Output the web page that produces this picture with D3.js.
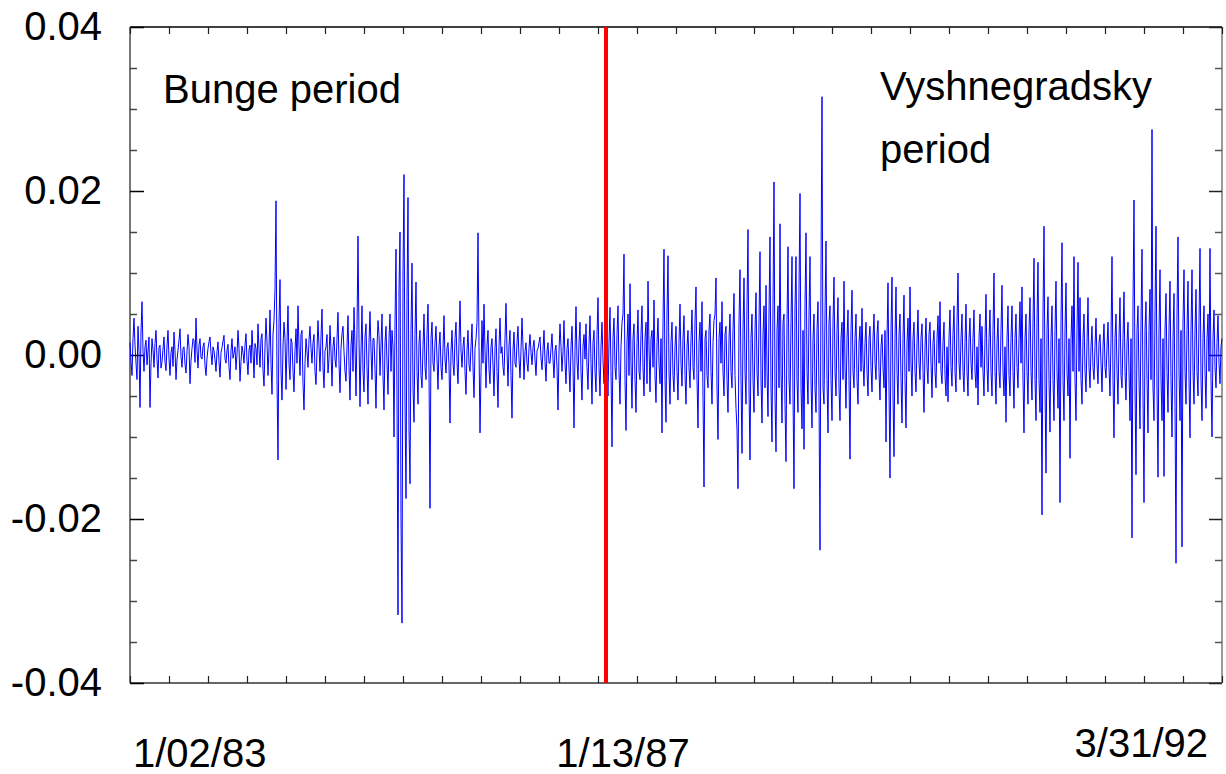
<!DOCTYPE html>
<meta charset="utf-8">

<style>
  body { margin: 0; background: #fff; }
  svg text { font-family: "Liberation Sans", Arial, sans-serif; fill: #000; }
</style>

<script src="https://d3js.org/d3.v7.min.js"></script>

<div id="chart"></div>

<script>

// daily returns, in thousandths (0.001 units)
var returns = [
  1.5, -0.8, -2.5, 2.0, 4.5, 1.2, -1.0, -3.0, 3.5, 0.4, -6.4, 2.8, 6.5, 0.5, -2.0, 1.0, 1.8, -1.2, 0.5, 2.2,
  -6.4, -1.0, 2.0, 0.6, -1.5, 1.4, 3.0, -0.5, -2.8, 0.9, 1.2, -1.6, -0.8, 0.7, 2.2, -0.9, -1.9, 1.1, 3.0, -0.4,
  -2.5, 0.3, 1.0, -1.4, 2.8, 0.5, -3.0, -0.6, 0.6, 1.8, 3.2, -0.2, -1.5, 0.8, 1.0, -1.1, -2.2, 0.4, 2.5, 1.0,
  -3.5, -0.7, 0.8, 2.0, 1.8, -0.9, 4.5, 0.6, -1.6, 1.2, 2.0, -0.3, -0.5, 1.0, 1.5, -1.3, -2.5, -0.4, 0.8, 1.6,
  2.2, 0.2, -1.2, 1.0, 0.5, -0.6, -2.0, 0.4, 1.6, -0.8, -2.7, 0.3, 0.9, 1.7, 2.4, -0.5, -1.0, 0.6, 1.3, -1.5,
  -3.0, 0.5, 2.0, -0.4, 0.2, 1.0, -1.8, 0.1, 3.0, 0.8, -3.2, -0.8, 1.1, 0.3, -1.0, 1.2, 2.6, -0.7, -2.4, 0.6,
  1.2, -1.0, 3.0, 0.5, -2.8, 1.4, 0.8, -1.2, 3.8, 0.7, -1.5, 2.0, 2.6, -1.8, -3.8, 1.0, 4.5, 1.5, -2.5, 0.8,
  5.5, -1.0, -4.8, 2.5, 4.2, 8.0, 18.8, -3.0, -12.8, 4.0, 9.2, -2.0, -5.5, 1.0, 4.0, 2.0, -4.2, 1.5, 6.0, -1.0,
  -3.0, 2.0, 1.5, -2.0, -4.5, 0.5, 3.2, -1.0, 6.0, 1.0, -2.5, 2.5, 3.0, -3.5, -6.7, -1.0, 2.0, 0.5, -1.5, 1.8,
  3.5, 0.8, -1.0, 1.5, 2.5, -2.0, -3.6, 0.6, 4.2, 1.0, -2.0, 2.2, 5.6, -1.5, -4.0, 0.5, 1.0, 2.5, -2.2, -0.5,
  3.6, 0.5, -3.8, 1.0, 2.2, -0.5, -1.5, 2.0, 5.2, -1.0, -4.6, 0.8, 2.6, 3.5, 0.4, -2.0, -3.2, 1.0, 4.8, -1.5,
  -5.5, 1.2, 3.0, -2.0, 5.8, 1.0, -5.0, 3.0, 14.5, 2.0, -6.3, 0.5, 6.0, -2.0, -4.5, 2.2, 3.8, -1.5, -6.0, 1.5,
  5.3, 0.5, -3.0, 2.0, 2.0, -1.8, -6.5, 1.0, 4.2, 2.5, -2.5, 1.2, 5.0, -2.5, -6.7, 1.5, 3.5, -1.0, -4.8, 2.0,
  5.0, -2.0, 3.0, 1.0, -10.0, 4.0, 12.9, -5.0, -31.7, 8.0, 15.0, -20.0, -32.7, 10.0, 22.0, -6.0, -17.5, 7.0, 19.2, -9.0,
  -15.7, 3.0, 11.2, -4.0, -8.2, 2.5, 8.9, -2.0, -6.0, 1.5, 3.0, -2.5, -4.0, 1.0, 5.0, -1.5, -3.0, 2.5, 6.2, -2.0,
  -18.7, 2.0, 4.0, -1.0, -2.0, 1.5, 3.5, -0.5, -4.2, 1.0, 2.8, -1.5, -3.0, 0.8, 4.8, -0.6, -2.2, 0.9, 1.5, -1.2,
  -8.3, 0.5, 3.0, -1.0, -2.5, 2.0, 4.0, -0.8, -3.5, 1.5, 6.6, 0.5, -1.5, 1.0, 2.2, -2.0, -4.8, 0.6, 3.0, -1.2,
  -2.0, 1.0, 3.8, -1.5, -5.2, 0.8, 2.0, 4.0, 14.9, 1.0, -9.5, -2.0, 4.2, -1.0, 6.2, 0.5, -4.0, 1.2, 3.0, -1.8,
  -3.5, 1.0, 2.0, -1.2, -5.0, 0.8, 3.2, -2.0, -6.4, 1.0, 4.5, 0.2, 1.0, -1.5, -2.5, 2.0, 6.3, 0.5, -3.8, 1.2,
  3.0, -2.5, -7.7, 0.6, 2.8, -1.0, -1.5, 1.5, 3.5, -0.5, -2.8, 0.6, 4.5, 1.0, -3.0, 0.4, 1.5, -1.0, -2.0, 0.8,
  2.5, 0.3, -1.2, 0.9, 1.8, -0.6, -2.5, 0.5, 0.8, 1.5, 2.2, -0.4, -1.8, 0.6, 3.0, -0.8, -3.2, 0.5, 1.5, -1.0,
  -1.0, 0.8, 2.6, -0.5, -2.8, 0.6, 1.2, -1.5, -6.7, 0.5, 3.8, 1.0, -2.0, 0.4, 4.2, -1.0, -3.5, 0.8, 2.0, -1.6,
  -4.5, 1.0, 3.5, -1.2, -8.9, 0.5, 5.9, -0.8, -3.0, 1.5, 4.0, -2.0, -5.5, 1.0, 2.5, -0.5, 3.8, -1.5, -4.2, 1.2,
  4.8, -1.0, -6.0, 1.5, 3.0, -2.0, -4.5, 2.5, 7.0, -1.5, -5.0, 1.0, 4.0, -0.6, -3.5, 2.0, 6.0, -2.5, -5.0, 1.5,
  5.8, -2.0, -11.2, 2.0, 4.5, -1.5, -3.0, 2.5, 6.0, -2.0, -6.0, 1.0, 4.0, 5.0, 12.3, -3.0, -9.2, 1.5, 5.0, -2.5,
  8.7, -1.0, -6.5, 2.0, 3.8, -3.0, -7.0, 1.5, 5.5, -2.0, -3.0, 2.5, 6.0, -1.5, -5.0, 2.0, 4.0, -3.5, 9.0, 1.0,
  -4.5, 2.0, 3.0, -1.5, 6.7, -2.5, -5.8, 1.5, 4.5, -1.0, -3.5, 2.0, -9.5, 4.0, 12.9, -3.0, -8.2, 5.0, 12.1, -2.0,
  -6.0, 1.5, 4.0, -2.5, -4.5, 1.0, 3.5, -2.0, -5.5, 1.5, 6.2, -1.0, -3.8, 2.0, 4.8, -2.5, -6.0, 1.0, 3.0, -1.5,
  -4.0, 2.0, 5.5, -1.5, -3.0, 4.0, 8.3, -3.0, -8.9, 1.5, 4.0, -2.0, 6.5, -5.0, -16.1, 2.0, 3.0, -2.5, -4.0, 3.0,
  5.0, -2.0, -6.0, 1.5, 4.2, 5.0, 9.4, -4.0, -10.3, 2.0, 4.0, -1.0, 6.5, -2.0, -5.0, 2.5, 3.5, -3.0, -7.0, 2.0,
  5.0, -2.0, -4.0, 3.0, 7.5, -2.5, -6.5, -9.0, -16.3, 4.0, 10.4, -3.0, -12.0, 3.0, 9.4, -2.0, -6.0, 6.0, 15.3, -4.0,
  -12.8, 2.0, 5.0, -3.0, -7.0, 3.0, 7.6, -2.0, -5.0, 4.0, 12.6, -3.0, -8.3, 2.5, 6.0, -4.0, 8.5, -2.0, -7.5, 5.0,
  14.4, -4.0, -10.6, 6.0, 21.1, -5.0, -11.8, 3.0, 6.0, -4.0, 16.0, -2.0, -8.3, 4.0, 5.0, -6.0, -13.0, 4.0, 13.2, -3.0,
  -6.0, 4.0, 12.0, -5.0, -16.3, 6.0, 12.0, -3.0, -7.0, 8.0, 19.7, -4.0, -9.0, 3.0, -11.5, 6.0, 14.9, -2.0, -6.0, 5.0,
  12.0, -3.0, -8.9, 2.0, 5.0, -4.0, -7.0, 3.0, 6.5, -5.0, -23.8, 10.0, 31.5, -4.0, -6.0, 5.0, 13.9, -3.0, -9.5, 4.0,
  6.0, -3.0, -8.0, 4.0, 9.5, -2.0, -5.0, 3.0, 7.0, -4.0, -8.0, 2.0, 4.0, -3.0, 9.0, -1.5, -6.5, 2.0, 5.5, -3.0,
  -12.7, 3.0, 7.9, -2.0, -4.0, 2.0, 5.0, -3.0, -6.0, 1.5, 3.5, -2.0, 5.7, -1.0, -3.8, 1.5, 4.0, -2.0, -5.0, 2.0,
  3.5, -1.5, -4.5, 2.0, 5.0, -1.0, -3.0, 2.5, 4.2, -2.0, -5.5, 1.0, 2.5, -1.5, -4.0, 3.0, -10.6, 2.0, 8.8, -4.0,
  -15.0, 3.0, 9.5, -5.0, -12.4, 2.0, 8.3, -2.0, -6.0, 2.5, 5.0, -3.0, -8.3, 2.0, 7.3, -3.0, -8.9, 1.5, 4.5, -2.0,
  8.3, -1.0, -5.0, 2.0, 4.0, -2.0, -4.5, 1.5, 5.5, -1.0, -3.0, 2.0, 3.8, -2.0, -7.0, 1.0, 4.5, -1.5, -3.5, 2.5,
  4.0, -1.0, -5.2, 1.5, 3.0, -2.0, -4.0, 2.0, 4.8, -1.0, 6.5, -2.0, -3.5, 1.5, 4.0, -2.5, -5.0, 1.0, -5.7, 2.0,
  5.5, -1.5, -3.8, 2.5, 6.0, -2.0, -4.5, 4.0, 10.0, -1.0, -3.0, 2.0, 5.0, -2.0, -4.5, 1.5, 6.2, -2.0, -5.0, 2.0,
  4.5, -1.0, -3.0, 2.0, 5.5, -2.0, -4.0, 1.0, -6.1, 2.0, 5.0, -1.5, 3.5, -2.0, -5.0, 2.0, 7.4, -1.5, -4.5, 2.0,
  5.5, -2.0, -5.0, 3.0, 10.0, -2.0, -6.0, 1.5, 4.5, -2.0, -4.0, 3.0, 8.5, -2.0, -5.0, 1.0, -8.2, 2.0, 6.0, -2.5,
  -5.0, 2.0, 6.0, -2.0, -6.5, 2.0, 5.0, -1.5, -4.0, 2.0, 6.5, -1.0, 8.3, -3.0, -9.5, 2.0, 5.0, -2.0, -6.0, 3.0,
  7.0, -2.0, -5.5, 4.0, 11.8, -3.0, -8.0, 4.0, 11.3, -3.0, -7.0, 2.0, -19.5, 5.0, 15.7, -4.0, -14.4, 3.0, 7.1, -3.0,
  -9.4, 2.0, 6.0, -3.0, -8.0, 3.0, 9.0, -2.0, -6.5, 2.0, -18.0, 4.0, 13.7, -3.0, -8.0, 3.0, 8.8, -2.0, -5.0, 2.0,
  -12.6, 2.0, 6.0, -2.0, 12.0, -3.0, -8.0, 3.0, 11.3, -2.0, 7.0, -3.0, -6.0, 2.0, 5.0, -2.0, -4.5, 1.5, 7.0, -1.5,
  -4.0, 1.0, 3.5, -1.5, -3.0, 1.0, 4.5, -1.0, -3.5, 1.5, 2.5, -1.0, -4.5, 1.0, 3.8, -1.5, -2.8, 1.0, 4.0, -1.5,
  -5.0, 2.0, 12.0, -3.0, -10.1, 2.0, 5.0, -2.0, -6.0, 2.0, 7.0, -2.5, -4.0, 2.0, 7.7, -2.0, -5.5, 1.5, 4.0, -2.0,
  -8.0, 2.0, -22.3, 6.0, 18.9, -4.0, -14.6, 3.0, 6.0, -3.0, -9.0, 4.0, 12.9, -5.0, -18.0, 3.0, 6.5, -3.0, -9.5, 3.0,
  8.0, -3.0, 27.5, -4.0, -8.0, 5.0, 15.7, -4.0, -14.9, 3.0, 10.4, -3.0, -8.0, 2.0, -14.8, 3.0, 7.5, -2.0, -7.0, 3.0,
  9.0, -3.0, -10.0, 2.0, 7.5, -6.0, -25.4, 5.0, 14.4, -2.0, -8.0, 3.0, -23.4, 4.0, 10.4, -2.0, -6.0, 3.0, 9.0, -3.0,
  -10.1, 3.0, 10.4, -2.0, -6.0, 3.0, 8.0, -2.0, -5.0, 4.0, 13.0, -3.0, -8.0, 2.0, 6.0, -2.0, -6.5, 2.0, 5.0, -2.0,
  13.0, -3.0, -10.0, 2.0, 5.5, -1.5, -4.0, 1.5, 4.8, -1.0, -3.5, 1.0, 2.0
];

// index of 1/13/87, where the period changes
var breakIndex = 476;

var dateLabels = ["1/02/83", "1/13/87", "3/31/92"];
var yMajorTicks = [-40, -20, 0, 20, 40];
var yMinorTicks = [-35, -30, -25, -15, -10, -5, 5, 10, 15, 25, 30, 35];

var W = 1226, H = 774;
var margin = {top: 27, right: 4, bottom: 91, left: 130};
var width = W - margin.left - margin.right,
    height = H - margin.top - margin.bottom;

var svg = d3.select("#chart")
  .append("svg")
    .attr("width", W)
    .attr("height", H);

var g = svg.append("g")
    .attr("transform", "translate(" + margin.left + "," + margin.top + ")");

var x = d3.scaleLinear()
  .domain([0, returns.length - 1])
  .range([0, width]);

var y = d3.scaleLinear()
  .domain([-40, 40])
  .range([height, 0]);

// x ticks: 28 equal steps along the sample
var xTicks = d3.range(29).map(function(k) { return k * (returns.length - 1) / 28; });

// frame
g.append("line").attr("x1", 0).attr("x2", width).attr("y1", 0).attr("y2", 0)
  .attr("stroke", "#000").attr("stroke-width", 1.5);
g.append("line").attr("x1", 0).attr("x2", width).attr("y1", height).attr("y2", height)
  .attr("stroke", "#333").attr("stroke-width", 1.5);
g.append("line").attr("x1", 0).attr("x2", 0).attr("y1", 0).attr("y2", height)
  .attr("stroke", "#777").attr("stroke-width", 2);
g.append("line").attr("x1", width).attr("x2", width).attr("y1", 0).attr("y2", height)
  .attr("stroke", "#777").attr("stroke-width", 1.5);

function styleTicks(sel, color, w) {
  sel.select(".domain").remove();
  sel.selectAll(".tick line").attr("stroke", color).attr("stroke-width", w);
}

// left axis, major ticks with labels
g.append("g")
  .call(d3.axisLeft(y).tickValues(yMajorTicks).tickSize(-14).tickSizeOuter(0)
    .tickPadding(28)
    .tickFormat(function(d) { return (d / 1000).toFixed(2); }))
  .call(styleTicks, "#000", 1.5)
  .attr("font-size", 40)
  .attr("font-family", null);

// left axis, minor ticks
g.append("g")
  .call(d3.axisLeft(y).tickValues(yMinorTicks).tickSize(-7).tickSizeOuter(0).tickFormat(""))
  .call(styleTicks, "#444", 1.5);

// right axis
g.append("g")
  .attr("transform", "translate(" + width + ",0)")
  .call(d3.axisRight(y).tickValues(yMajorTicks).tickSize(-13).tickSizeOuter(0).tickFormat(""))
  .call(styleTicks, "#222", 1.5);
g.append("g")
  .attr("transform", "translate(" + width + ",0)")
  .call(d3.axisRight(y).tickValues(yMinorTicks).tickSize(-7).tickSizeOuter(0).tickFormat(""))
  .call(styleTicks, "#555", 1.5);

// top and bottom ticks
g.append("g")
  .call(d3.axisTop(x).tickValues(xTicks).tickSize(-7).tickSizeOuter(0).tickFormat(""))
  .call(styleTicks, "#222", 1.2);
g.append("g")
  .attr("transform", "translate(0," + height + ")")
  .call(d3.axisBottom(x).tickValues(xTicks).tickSize(-7).tickSizeOuter(0).tickFormat(""))
  .call(styleTicks, "#222", 1.2);

// the series
var line = d3.line()
  .x(function(d, i) { return x(i); })
  .y(function(d) { return y(d); });

g.append("path")
  .datum(returns)
  .attr("fill", "none")
  .attr("stroke", "#0000ff")
  .attr("stroke-width", 1)
  .attr("d", line);

// period break
g.append("line")
  .attr("x1", x(breakIndex)).attr("x2", x(breakIndex))
  .attr("y1", 0).attr("y2", height)
  .attr("stroke", "#ff0000")
  .attr("stroke-width", 4);

// period names
g.append("text")
  .attr("x", 33).attr("y", 76)
  .style("font-size", "40px")
  .text("Bunge period");

var vy = g.append("text")
  .attr("x", 750).attr("y", 73)
  .style("font-size", "40px");
vy.append("tspan").attr("x", 750).text("Vyshnegradsky");
vy.append("tspan").attr("x", 750).attr("dy", 63).text("period");

// date labels under the axis
svg.append("text")
  .attr("x", margin.left + x(0) + 3).attr("y", 767)
  .style("font-size", "40px")
  .text(dateLabels[0]);
svg.append("text")
  .attr("x", margin.left + x(breakIndex) + 17).attr("y", 767)
  .attr("text-anchor", "middle")
  .style("font-size", "40px")
  .text(dateLabels[1]);
svg.append("text")
  .attr("x", margin.left + x(returns.length - 1) - 14).attr("y", 757)
  .attr("text-anchor", "end")
  .style("font-size", "40px")
  .text(dateLabels[2]);

</script>
